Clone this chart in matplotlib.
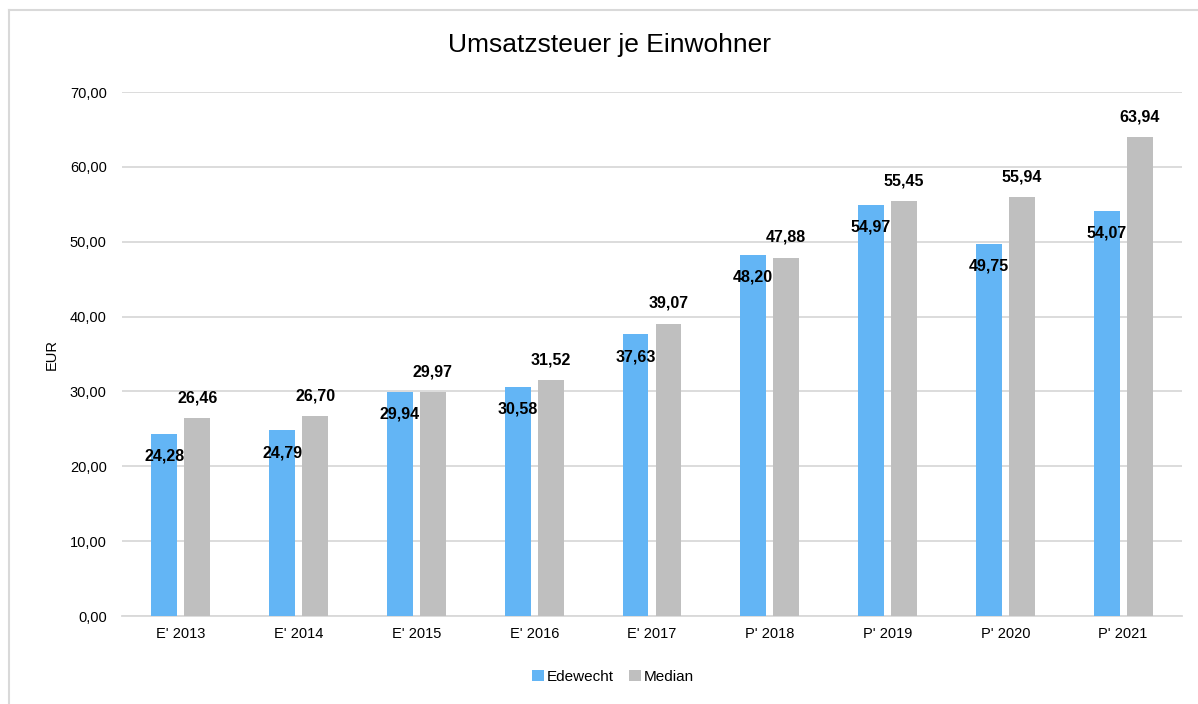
import matplotlib
matplotlib.use("Agg")
import matplotlib.pyplot as plt
from matplotlib.lines import Line2D
import numpy as np

plt.rcParams['font.family'] = ['Liberation Sans', 'DejaVu Sans']

categories = ["E' 2013", "E' 2014", "E' 2015", "E' 2016", "E' 2017",
              "P' 2018", "P' 2019", "P' 2020", "P' 2021"]
edewecht = [24.28, 24.79, 29.94, 30.58, 37.63, 48.20, 54.97, 49.75, 54.07]
median = [26.46, 26.70, 29.97, 31.52, 39.07, 47.88, 55.45, 55.94, 63.94]
series_names = ["Edewecht", "Median"]
yticks = [0, 10, 20, 30, 40, 50, 60, 70]

c_blue = "#63b5f5"
c_gray = "#bfbfbf"
c_grid = "#d9d9d9"

W, H = 1198, 704
fig = plt.figure(figsize=(W / 100, H / 100), dpi=100)
ax = fig.add_axes([122 / W, 1 - 616 / H, (1182 - 122) / W, (616 - 92) / H])

x = np.arange(len(categories))
bw = 0.22
off = 0.14
b1 = ax.bar(x - off, edewecht, bw, color=c_blue, label=series_names[0], zorder=3)
b2 = ax.bar(x + off, median, bw, color=c_gray, label=series_names[1], zorder=3)

def fmt(v):
    return f"{v:.2f}".replace(".", ",")

for xi, v in zip(x, edewecht):
    ax.annotate(fmt(v), (xi - off, v), xytext=(0, -16), textcoords="offset points",
                ha="center", va="center", fontsize=11.5, fontweight="bold", color="black", zorder=4)
for xi, v in zip(x, median):
    ax.annotate(fmt(v), (xi + off, v), xytext=(0, 14.5), textcoords="offset points",
                ha="center", va="center", fontsize=11.5, fontweight="bold", color="black", zorder=4)

ax.set_xlim(-0.5, len(categories) - 0.5)
ax.set_ylim(0, 70)
ax.set_yticks(yticks)
ax.set_yticklabels([fmt(v) for v in yticks], fontsize=10.5)
ax.set_xticks(x)
ax.set_xticklabels(categories, fontsize=10.5)
ax.tick_params(axis="y", length=0, pad=11)
ax.tick_params(axis="x", length=0, pad=8)
ax.grid(axis="y", color=c_grid, linewidth=1.3, zorder=0)
for s in ["top", "right", "left"]:
    ax.spines[s].set_visible(False)
ax.spines["bottom"].set_color(c_grid)
ax.spines["bottom"].set_linewidth(1.3)
fig.text(52 / W, 1 - 355 / H, "EUR", rotation=90, ha="center", va="center", fontsize=10.5)

fig.text(610 / W, 1 - 45 / H, "Umsatzsteuer je Einwohner", ha="center", va="center", fontsize=19)

fig.legend(handles=[b1, b2], labels=series_names, loc="center", bbox_to_anchor=(613 / W, 1 - 677 / H),
           ncol=2, frameon=False, fontsize=11, handlelength=0.75, handleheight=0.75,
           handletextpad=0.2, columnspacing=1.0)

# chart border (left and top visible)
fig.add_artist(Line2D([8.5 / W, 8.5 / W], [0, 1 - 9.5 / H], transform=fig.transFigure, color="#d9d9d9", lw=1.5))
fig.add_artist(Line2D([8.5 / W, 1], [1 - 9.5 / H, 1 - 9.5 / H], transform=fig.transFigure, color="#d9d9d9", lw=1.5))

fig.savefig("out.png", dpi=100)
